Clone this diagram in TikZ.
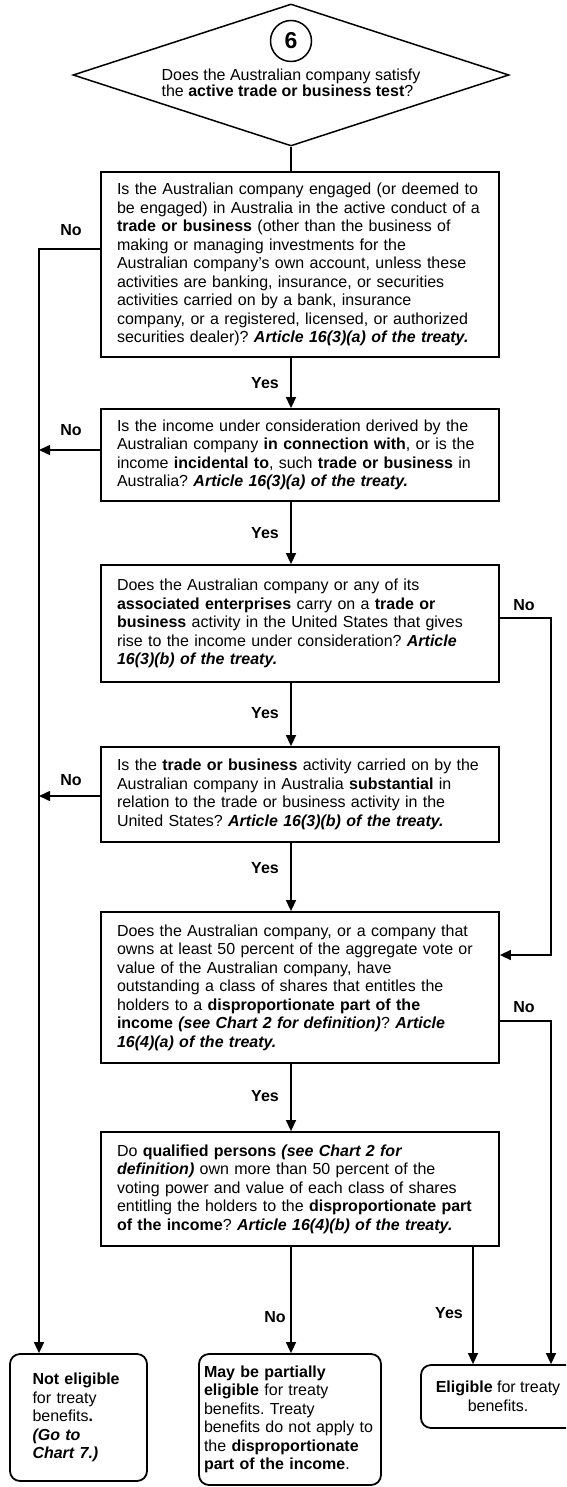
\documentclass[tikz,border=0pt]{standalone}
\usepackage{fontspec}
\setmainfont{Liberation Sans}
\usetikzlibrary{arrows.meta,shapes.geometric}
\frenchspacing

\newcommand{\boxfont}{\fontsize{16}{18.5}\selectfont}
\newcommand{\artref}[1]{\textbf{\textit{#1}}}

\tikzset{
  qbox/.style={draw,line width=1.8pt,minimum width=398pt,text width=366pt,align=left,inner sep=0pt,font=\boxfont},
  endbox/.style={draw,line width=1.8pt,rounded corners=10pt,inner sep=0pt,font=\boxfont},
  lbl/.style={font=\boxfont\bfseries,inner sep=0.75pt},
  link/.style={line width=1.5pt},
  arr/.style={link,-{Triangle[length=11pt,width=10pt]}}
}

\begin{document}
\begin{tikzpicture}[x=1pt,y=1pt,yscale=-1,xscale=1]
\useasboundingbox (0,0) rectangle (566,1487);
\clip (0,0) rectangle (566,1487);

%Shape: Diamond [id:q6]
\node [draw,line width=1.5pt,diamond,aspect=3.07,minimum width=436pt,minimum height=142pt,inner sep=0pt] (q6) at (291,75) {};
%Shape: Circle [id:c6]
\node [draw,circle,line width=1.5pt,minimum size=41pt,inner sep=0pt,font=\fontsize{23}{23}\selectfont\bfseries] (c6) at (291,41) {6};
% Text Node
\node [align=left,inner sep=0pt,font=\fontsize{16}{16.5}\selectfont] (q6txt) at (291,83) {Does the Australian company satisfy\\the \textbf{active trade or business test}?};

%Shape: Rectangle [id:b1]
\node [qbox,minimum height=185pt] (b1) at (300,264.5) {Is the Australian company engaged (or deemed to\\
be engaged) in Australia in the active conduct of a\\
\textbf{trade or business} (other than the business of\\
making or managing investments for the\\
Australian company’s own account, unless these\\
activities are banking, insurance, or securities\\
activities carried on by a bank, insurance\\
company, or a registered, licensed, or authorized\\
securities dealer)? \artref{Article 16(3)(a) of the treaty.}};
%Shape: Rectangle [id:b2]
\node [qbox,minimum height=92pt] (b2) at (300,455) {Is the income under consideration derived by the\\
Australian company \textbf{in connection with}, or is the\\
income \textbf{incidental to}, such \textbf{trade or business} in\\
Australia? \artref{Article 16(3)(a) of the treaty.}};
%Shape: Rectangle [id:b3]
\node [qbox,minimum height=117pt] (b3) at (300,623.5) {Does the Australian company or any of its\\
\textbf{associated enterprises} carry on a \textbf{trade or}\\
\textbf{business} activity in the United States that gives\\
rise to the income under consideration? \artref{Article}\\
\artref{16(3)(b) of the treaty.}};
%Shape: Rectangle [id:b4]
\node [qbox,minimum height=95pt] (b4) at (300,794.5) {Is the \textbf{trade or business} activity carried on by the\\
Australian company in Australia \textbf{substantial} in\\
relation to the trade or business activity in the\\
United States? \artref{Article 16(3)(b) of the treaty.}};
%Shape: Rectangle [id:b5]
\node [qbox,minimum height=151pt] (b5) at (300,987.5) {Does the Australian company, or a company that\\
owns at least 50 percent of the aggregate vote or\\
value of the Australian company, have\\
outstanding a class of shares that entitles the\\
holders to a \textbf{disproportionate part of the}\\
\textbf{income \textit{(see Chart 2 for definition)}}? \artref{Article}\\
\artref{16(4)(a) of the treaty.}};
%Shape: Rectangle [id:b6]
\node [qbox,minimum height=114pt] (b6) at (300,1189) {Do \textbf{qualified persons \textit{(see Chart 2 for}}\\
\artref{definition)} own more than 50 percent of the\\
voting power and value of each class of shares\\
entitling the holders to the \textbf{disproportionate part}\\
\textbf{of the income}? \artref{Article 16(4)(b) of the treaty.}};

%Shape: Rounded Rect [id:ne]
\node [endbox,minimum width=137pt,minimum height=127pt,text width=92pt,align=left] (ne) at (78.5,1417.5) {\textbf{Not eligible}\\for treaty\\benefits\textbf{.}\\\artref{(Go to}\\\artref{Chart 7.)}};
%Shape: Rounded Rect [id:mb]
\node [endbox,minimum width=182pt,minimum height=131pt,text width=172pt,align=left] (mb) at (290,1419.5) {\textbf{May be partially}\\\textbf{eligible} for treaty\\benefits. Treaty\\benefits do not apply to\\the \textbf{disproportionate}\\\textbf{part of the income}.};
%Shape: Rounded Rect [id:el]
\node [endbox,minimum width=154pt,minimum height=63pt,align=center] (el) at (498,1396.5) {\textbf{Eligible} for treaty\\benefits.};

% guide coordinates
\coordinate (lx) at (39,249);
\coordinate (rx) at (551,618);
\coordinate (rx2) at (551,1021);

%Straight Lines
\draw [link] (q6.south) -- (q6.south |- b1.north);
\draw [arr] (q6.south |- b1.south) -- (q6.south |- b2.north);
\draw [arr] (q6.south |- b2.south) -- (q6.south |- b3.north);
\draw [arr] (q6.south |- b3.south) -- (q6.south |- b4.north);
\draw [arr] (q6.south |- b4.south) -- (q6.south |- b5.north);
\draw [arr] (q6.south |- b5.south) -- (q6.south |- b6.north);
\draw [arr] (q6.south |- b6.south) -- (q6.south |- mb.north);
\draw [arr] (473,0 |- b6.south) -- (473,0 |- el.north);
% left No path
\draw [arr] (b1.west |- lx) -- (lx) -- (lx |- ne.north);
\draw [arr] (b2.west |- 0,450) -- (lx |- 0,450);
\draw [arr] (b4.west |- 0,796) -- (lx |- 0,796);
% right No paths
\draw [arr] (b3.east |- rx) -- (rx) -- (rx |- 0,955) -- (b5.east |- 0,955);
\draw [arr] (b5.east |- rx2) -- (rx2) -- (rx2 |- el.north);

% Text Node
\node [lbl] (n1) at (71,230) {No};
\node [lbl] (n2) at (71,430) {No};
\node [lbl] (n4) at (71,780) {No};
\node [lbl] (n3) at (524,605) {No};
\node [lbl] (n5) at (524,1007) {No};
\node [lbl] (y1) at (265,383) {Yes};
\node [lbl] (y2) at (265,533) {Yes};
\node [lbl] (y3) at (265,713) {Yes};
\node [lbl] (y4) at (265,868) {Yes};
\node [lbl] (y5) at (265,1096) {Yes};
\node [lbl] (n6) at (275,1317) {No};
\node [lbl] (y6) at (449,1313) {Yes};

\end{tikzpicture}
\end{document}
